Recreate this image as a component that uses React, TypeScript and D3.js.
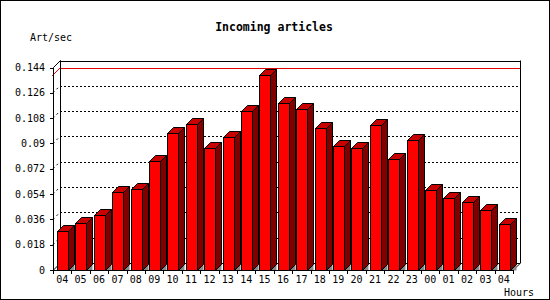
import React from "react";
import * as d3 from "d3";

const hours = ["04","05","06","07","08","09","10","11","12","13","14","15","16","17","18","19","20","21","22","23","00","01","02","03","04"];
const values = [0.0276,0.0333,0.0388,0.0558,0.0579,0.0777,0.0976,0.1040,0.0869,0.0945,0.1132,0.1387,0.1188,0.1146,0.1011,0.0884,0.0867,0.1032,0.0791,0.0926,0.0572,0.0515,0.0487,0.0430,0.0324];
const yTicks = [0, 0.018, 0.036, 0.054, 0.072, 0.09, 0.108, 0.126, 0.144];
const yTickLabels = ["0","0.018","0.036","0.054","0.072","0.09","0.108","0.126","0.144"];
const title = "Incoming articles";
const yTitle = "Art/sec";
const xTitle = "Hours";

const W = 550, H = 300;
const X0 = 53, X1 = 513, Y0 = 270, YTOP = 67.5;
const WD = 7; // wall depth
const BD = 6; // bar depth
const FONT = "'DejaVu Sans Mono', 'Liberation Mono', monospace";

export default function App() {
  const idx = hours.map((_, i) => String(i));
  const x = d3.scaleBand<string>().domain(idx).range([X0, X1]).padding(0);
  const y = d3.scaleLinear().domain([0, 0.144]).range([Y0, YTOP]);
  const bw = x.bandwidth();
  const maxV = d3.max(values) as number;

  const barW = 11;
  const barOff = 4;

  return (
    <div style={{ position: "absolute", left: 0, top: 0 }}>
      <svg width={W} height={H} style={{ display: "block", background: "#fff" }}>
        <rect x={0.5} y={0.5} width={W - 1} height={H - 1} fill="#fff" stroke="#000" strokeWidth={1} />
        <text x={274} y={31} textAnchor="middle" fontFamily={FONT} fontWeight="bold" fontSize={11.5} fill="#000">{title}</text>
        <text x={30} y={41} fontFamily={FONT} fontSize={10} fill="#000">{yTitle}</text>
        <text x={504} y={296} fontFamily={FONT} fontSize={10} fill="#000">{xTitle}</text>

        {/* back wall gridlines */}
        {yTicks.slice(1, -1).map((t, i) => (
          <g key={"g" + i}>
            <line x1={X0 + WD} x2={X1 + WD} y1={Math.round(y(t) - WD) + 0.5} y2={Math.round(y(t) - WD) + 0.5} stroke="#000" strokeDasharray="2,2" />
            <line x1={X0} y1={y(t)} x2={X0 + WD} y2={y(t) - WD} stroke="#000" strokeDasharray="2,3" />
          </g>
        ))}
        {/* max line */}
        <line x1={X0 + WD} x2={X1 + WD} y1={Math.round(y(maxV) - WD) + 0.5} y2={Math.round(y(maxV) - WD) + 0.5} stroke="#e00000" />
        <line x1={X0 - 1} y1={y(maxV) + 1} x2={X0 + WD} y2={y(maxV) - WD} stroke="#e00000" />

        {/* walls */}
        <g stroke="#000" fill="none" strokeWidth={1}>
          <line x1={X0 + WD + 0.5} y1={YTOP - WD} x2={X0 + WD + 0.5} y2={Y0 - WD} />
          <line x1={X0 + WD} y1={Math.round(YTOP - WD) + 0.5} x2={X1 + WD + 1} y2={Math.round(YTOP - WD) + 0.5} />
          <line x1={X1 + WD + 0.5} y1={YTOP - WD} x2={X1 + WD + 0.5} y2={Y0 - WD} />
          <line x1={X1 + WD + 0.5} y1={Y0 - WD} x2={X1} y2={Y0 + 0.5} />
          <line x1={X0 + 0.5} y1={YTOP} x2={X0 + WD + 0.5} y2={YTOP - WD} />
          <line x1={X0 + 0.5} y1={Y0} x2={X0 + WD + 0.5} y2={Y0 - WD} />
          <line x1={X0 + WD} y1={Y0 - WD + 0.5} x2={X1 + WD} y2={Y0 - WD + 0.5} />
        </g>

        {/* bars */}
        {values.map((v, i) => {
          const xl = Math.round((x(String(i)) as number) + barOff) + 0.5;
          const xr = xl + barW;
          const yt = Math.round(y(v)) + 0.5;
          const yb = Y0 + 0.5;
          return (
            <g key={"b" + i} stroke="#000" strokeWidth={1} strokeLinejoin="miter">
              <polygon points={`${xr},${yb} ${xr + BD},${yb - BD} ${xr + BD},${yb}`} fill="#888" stroke="none" />
              <polygon points={`${xr},${yt} ${xr + BD},${yt - BD} ${xr + BD},${yb - BD} ${xr},${yb}`} fill="#800000" />
              <polygon points={`${xl},${yt} ${xl + BD},${yt - BD} ${xr + BD},${yt - BD} ${xr},${yt}`} fill="#c80000" />
              <rect x={xl} y={yt} width={barW} height={yb - yt} fill="#ff0000" />
            </g>
          );
        })}

        {/* front axes */}
        <g stroke="#000" strokeWidth={1}>
          <line x1={X0 + 0.5} y1={YTOP} x2={X0 + 0.5} y2={Y0 + 1} />
          <line x1={X0} y1={Y0 + 0.5} x2={X1 + 1} y2={Y0 + 0.5} />
          {yTicks.map((t, i) => (
            <line key={"yt" + i} x1={X0 - 3} x2={X0} y1={Math.round(y(t)) + 0.5} y2={Math.round(y(t)) + 0.5} />
          ))}
          {d3.range(hours.length + 1).map((i) => {
            const xx = Math.round(X0 + i * bw) + 0.5;
            return <line key={"xt" + i} x1={xx} x2={xx} y1={Y0 + 1} y2={Y0 + 4} />;
          })}
        </g>

        {yTicks.map((t, i) => (
          <text key={"yl" + i} x={45} y={y(t)} dy="0.35em" textAnchor="end" fontFamily={FONT} fontSize={10} fill="#000">{yTickLabels[i]}</text>
        ))}
        {hours.map((h, i) => (
          <text key={"xl" + i} x={(x(String(i)) as number) + bw / 2} y={283} textAnchor="middle" fontFamily={FONT} fontSize={10} fill="#000">{h}</text>
        ))}
      </svg>
    </div>
  );
}
